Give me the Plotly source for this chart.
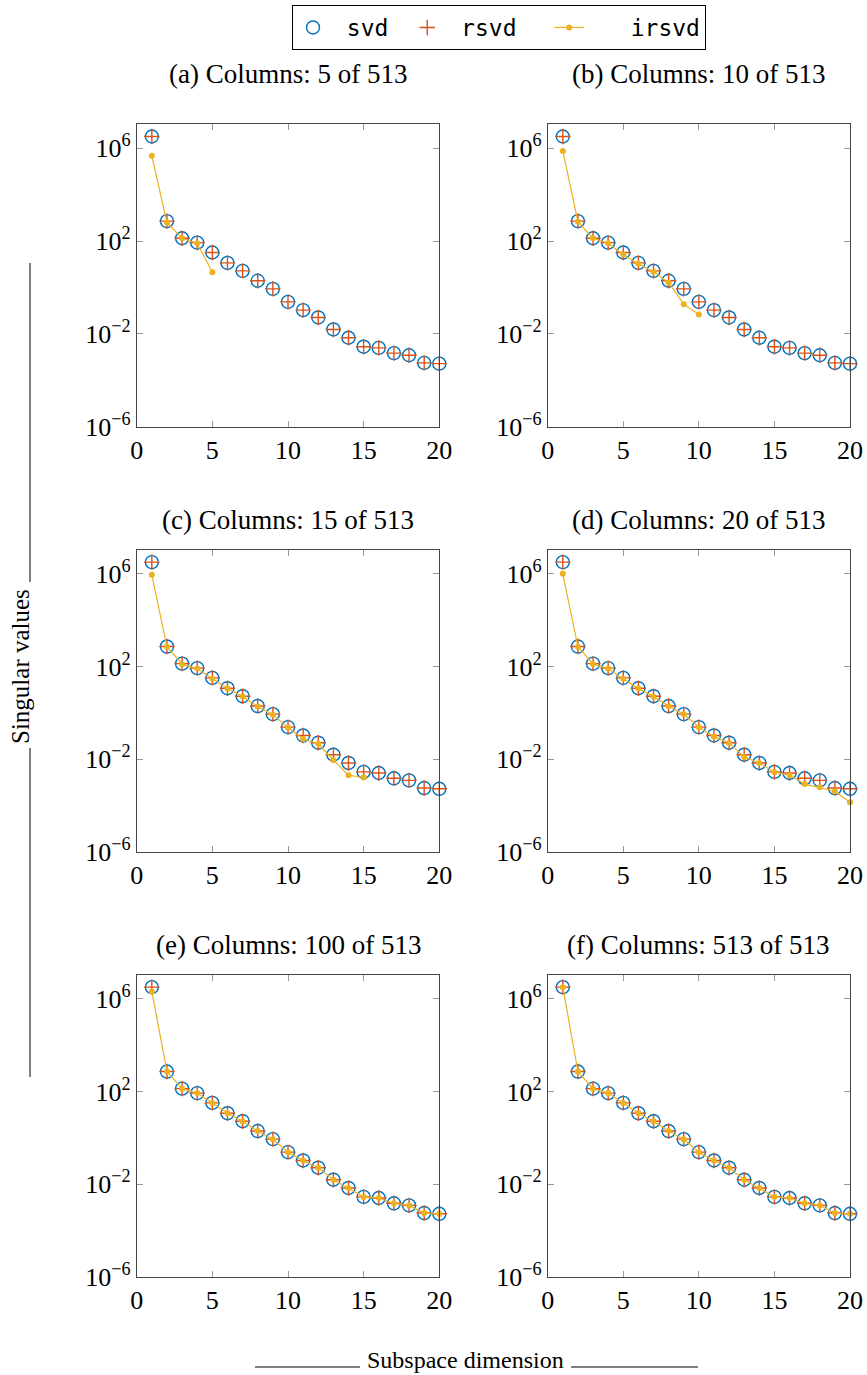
import plotly.graph_objects as go

x_dim = list(range(1, 21))

svd = [3.2e6, 724, 132, 85, 32, 11.5, 5.2, 1.95, 0.87, 0.24,
       0.105, 0.051, 0.0155, 0.0068, 0.0028, 0.0025, 0.00148, 0.0012, 0.00056, 0.00052]
rsvd = [3.2e6, 724, 132, 85, 32, 11.5, 5.2, 1.95, 0.87, 0.24,
        0.105, 0.051, 0.0155, 0.0068, 0.0028, 0.0025, 0.00148, 0.0012, 0.00056, 0.00052]

irsvd_5 = [4.7e5, 620, 132, 80, 4.5]
irsvd_10 = [7.6e5, 680, 132, 80, 25.7, 10.5, 4.8, 1.6, 0.19, 0.068]
irsvd_15 = [9.1e5, 710, 126, 81, 29.5, 11.2, 5.1, 1.86, 0.83, 0.23,
            0.074, 0.046, 0.0091, 0.0020, 0.0016]
irsvd_20 = [1.0e6, 710, 129, 81, 29.5, 11.2, 5.1, 1.9, 0.87, 0.24,
            0.093, 0.050, 0.0123, 0.0068, 0.0027, 0.0020, 0.00083, 0.0006, 0.00041, 0.000135]
irsvd_100 = [2.1e6, 724, 132, 85, 32, 11.5, 5.2, 1.95, 0.87, 0.24,
             0.105, 0.051, 0.0155, 0.0068, 0.0028, 0.0025, 0.00148, 0.0012, 0.00056, 0.00052]
irsvd_513 = [3.2e6, 724, 132, 85, 32, 11.5, 5.2, 1.95, 0.87, 0.24,
             0.105, 0.051, 0.0155, 0.0068, 0.0028, 0.0025, 0.00148, 0.0012, 0.00056, 0.00052]

panel_titles = ["(a) Columns: 5 of 513", "(b) Columns: 10 of 513",
                "(c) Columns: 15 of 513", "(d) Columns: 20 of 513",
                "(e) Columns: 100 of 513", "(f) Columns: 513 of 513"]
irsvd_sets = [irsvd_5, irsvd_10, irsvd_15, irsvd_20, irsvd_100, irsvd_513]

x_ticks = [0, 5, 10, 15, 20]
y_tickvals = [1e-6, 1e-2, 1e2, 1e6]
y_ticktext = ["10<sup>\u22126</sup>", "10<sup>\u22122</sup>", "10<sup>2</sup>", "10<sup>6</sup>"]

W, H = 867, 1375
SERIF = "Liberation Serif"
MONO = "DejaVu Sans Mono"
C_SVD = "#0072BD"
C_RSVD = "#D95319"
C_IRSVD = "#EDB120"

# panel pixel boxes: (left, right, top, bottom)
col_px = [(136.7, 439.3), (547.7, 850.0)]
row_px = [(124.3, 426.7), (550.0, 851.7), (975.0, 1276.7)]
title_y_px = [74, 520, 945]

fig = go.Figure()
layout = dict()
annotations = []
for i in range(6):
    r, c = divmod(i, 2)
    ax = "" if i == 0 else str(i + 1)
    xa, ya = "x" + ax, "y" + ax
    (l, rr), (t, b) = col_px[c], row_px[r]
    first = (i == 0)
    fig.add_trace(go.Scatter(x=x_dim, y=svd, mode="markers", name="\u00a0svd\u00a0",
                             marker=dict(symbol="circle-open", size=13, color=C_SVD,
                                         line=dict(width=1.4, color=C_SVD)),
                             xaxis=xa, yaxis=ya, showlegend=first, cliponaxis=False))
    fig.add_trace(go.Scatter(x=x_dim, y=rsvd, mode="markers", name="\u00a0rsvd\u00a0\u00a0",
                             marker=dict(symbol="cross-thin", size=11, color=C_RSVD,
                                         line=dict(width=1.4, color=C_RSVD)),
                             xaxis=xa, yaxis=ya, showlegend=first, cliponaxis=False))
    ir = irsvd_sets[i]
    fig.add_trace(go.Scatter(x=x_dim[:len(ir)], y=ir, mode="lines+markers",
                             name="\u00a0\u00a0\u00a0irsvd",
                             line=dict(color=C_IRSVD, width=1.2),
                             marker=dict(symbol="circle", size=6, color=C_IRSVD),
                             xaxis=xa, yaxis=ya, showlegend=first, cliponaxis=False))
    axis_common = dict(showline=True, linecolor="#444444", linewidth=1, mirror="allticks",
                       ticks="inside", ticklen=6, tickcolor="#9a9a9a", tickwidth=1,
                       showgrid=False, zeroline=False, automargin=False,
                       tickfont=dict(family=SERIF, size=26, color="black"))
    layout["xaxis" + ax] = dict(axis_common, domain=[l / W, rr / W], range=[0, 20],
                                tickvals=x_ticks, anchor=ya)
    layout["yaxis" + ax] = dict(axis_common, domain=[1 - b / H, 1 - t / H], type="log",
                                range=[-6, 7.03], tickvals=y_tickvals, ticktext=y_ticktext,
                                anchor=xa)
    annotations.append(dict(text=panel_titles[i], x=(l + rr) / 2 / W, y=1 - title_y_px[r] / H,
                            xref="paper", yref="paper", showarrow=False,
                            xanchor="center", yanchor="middle",
                            font=dict(family=SERIF, size=27, color="black")))

# shared axis labels (pgfplots style with lines either side)
annotations.append(dict(text="Singular values", x=21 / W, y=1 - 667 / H, xref="paper", yref="paper",
                        showarrow=False, textangle=-90, xanchor="center", yanchor="middle",
                        font=dict(family=SERIF, size=25, color="black")))
annotations.append(dict(text="Subspace dimension", x=465 / W, y=1 - 1360 / H, xref="paper",
                        yref="paper", showarrow=False, xanchor="center", yanchor="middle",
                        font=dict(family=SERIF, size=24, color="black")))
line_style = dict(color="black", width=1)
shapes = [
    dict(type="line", xref="paper", yref="paper", x0=30 / W, x1=30 / W,
         y0=1 - 263 / H, y1=1 - 582 / H, line=line_style),
    dict(type="line", xref="paper", yref="paper", x0=30 / W, x1=30 / W,
         y0=1 - 748 / H, y1=1 - 1077 / H, line=line_style),
    dict(type="line", xref="paper", yref="paper", x0=255 / W, x1=360 / W,
         y0=1 - 1367 / H, y1=1 - 1367 / H, line=line_style),
    dict(type="line", xref="paper", yref="paper", x0=571 / W, x1=698 / W,
         y0=1 - 1367 / H, y1=1 - 1367 / H, line=line_style),
]

fig.update_layout(
    width=W, height=H, margin=dict(l=0, r=0, t=0, b=0, autoexpand=False),
    paper_bgcolor="white", plot_bgcolor="white",
    annotations=annotations, shapes=shapes,
    legend=dict(orientation="h", x=499 / W, xanchor="center", y=1 - 5 / H, yanchor="top",
                bordercolor="black", borderwidth=1, bgcolor="white",
                font=dict(family=MONO, size=23, color="black"),
                itemwidth=30),
    **layout,
)

fig.write_html("out.html")
